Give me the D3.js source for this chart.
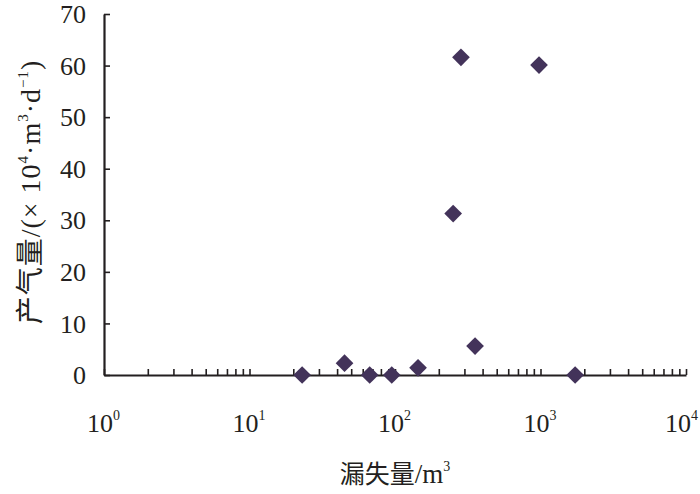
<!DOCTYPE html>
<html>
<head>
<meta charset="utf-8">
<script src="https://cdn.jsdelivr.net/npm/d3@7"></script>
<style>
  body { margin: 0; background: #fff; }
  svg text { font-family: "Liberation Serif", "Noto Sans CJK SC", serif; fill: #231f20; }
  .cjk { font-family: "Noto Sans CJK SC", sans-serif; }
</style>
</head>
<body>
<div id="chart"></div>
<script>
// Loss volume (m^3) vs gas production (10^4 m^3/d)
var lossVolume = [23, 45, 67, 95, 144, 251, 284, 355, 977, 1730];
var gasOutput  = [0, 2.3, 0, 0, 1.4, 31.3, 61.6, 5.6, 60.1, 0];
var yTicks = [0, 10, 20, 30, 40, 50, 60, 70];
var xDecades = [1, 10, 100, 1000, 10000];

var width = 700, height = 494;
var margin = { left: 104, right: 14, top: 14, bottom: 119 };

var svg = d3.select('#chart').append('svg')
    .attr('width', width)
    .attr('height', height);

var x = d3.scaleLog()
    .domain([1, 10000])
    .range([margin.left, width - margin.right]);

var y = d3.scaleLinear()
    .domain([0, 70])
    .range([height - margin.bottom, margin.top]);

var ink = '#231f20';

// minor + major ticks on the log axis, all pointing into the plot
var xTickVals = [];
for (var d = 1; d < 10000; d *= 10) {
  for (var k = 1; k < 10; k++) xTickVals.push(d * k);
}
xTickVals.push(10000);

var xAxis = svg.append('g')
    .attr('transform', 'translate(0,' + y(0) + ')')
    .call(d3.axisBottom(x).tickValues(xTickVals).tickSizeInner(-6).tickSizeOuter(0).tickFormat(''));
xAxis.select('.domain').attr('stroke', ink).attr('stroke-width', 2.2);
xAxis.selectAll('.tick line').attr('stroke', ink).attr('stroke-width', 1.6);

var yAxis = svg.append('g')
    .attr('transform', 'translate(' + x(1) + ',0)')
    .call(d3.axisLeft(y).tickValues(yTicks).tickSizeInner(-6).tickSizeOuter(0).tickFormat(''));
yAxis.select('.domain').attr('stroke', ink).attr('stroke-width', 2.2);
yAxis.selectAll('.tick line').attr('stroke', ink).attr('stroke-width', 1.6);

// y tick labels
svg.append('g').selectAll('text')
    .data(yTicks)
  .enter().append('text')
    .attr('x', 86)
    .attr('y', function(d) { return y(d); })
    .attr('dy', '0.35em')
    .attr('text-anchor', 'end')
    .style('font-size', '26px')
    .text(function(d) { return d; });

// x decade labels as 10^n; the "10" sits a little left of the tick
var xl = svg.append('g').selectAll('text')
    .data(xDecades)
  .enter().append('text')
    .attr('y', 432)
    .attr('text-anchor', 'start')
    .style('font-size', '26px');
xl.append('tspan').text('10');
xl.append('tspan')
    .attr('dy', -12)
    .style('font-size', '14px')
    .text(function(d) { return Math.round(Math.log10(d)); });
// keep the last label inside the page
xl.attr('x', function(d) {
  var w = this.getComputedTextLength();
  return Math.min(x(d) - 17, width - 2 - w);
});

// markers
svg.append('g').selectAll('path')
    .data(lossVolume.map(function(v, i) { return [v, gasOutput[i]]; }))
  .enter().append('path')
    .attr('d', d3.symbol().type(d3.symbolDiamond2).size(200))
    .attr('transform', function(d) {
      return 'translate(' + x(d[0]) + ',' + y(d[1]) + ')';
    })
    .attr('fill', '#43335a');

// axis titles
var xt = svg.append('text')
    .attr('x', 395)
    .attr('y', 483)
    .attr('text-anchor', 'middle')
    .style('font-size', '27px');
xt.append('tspan').attr('class', 'cjk').style('font-size', '25px').text('漏失量');
xt.append('tspan').text('/m');
xt.append('tspan').attr('dy', -12).style('font-size', '14px').text('3');

var yt = svg.append('text')
    .attr('transform', 'translate(40,' + 192 + ') rotate(-90)')
    .attr('text-anchor', 'middle')
    .style('font-size', '28px')
    .style('letter-spacing', '1px');
yt.append('tspan').attr('class', 'cjk').style('font-size', '28px').text('产气量');
yt.append('tspan').text('/(\u00d7 10');
yt.append('tspan').attr('dy', -12).style('font-size', '15px').text('4');
yt.append('tspan').attr('dy', 12).text('·m');
yt.append('tspan').attr('dy', -12).style('font-size', '15px').text('3');
yt.append('tspan').attr('dy', 12).text('·d');
yt.append('tspan').attr('dy', -12).style('font-size', '15px').text('\u22121');
yt.append('tspan').attr('dy', 12).text(')');
</script>
</body>
</html>
